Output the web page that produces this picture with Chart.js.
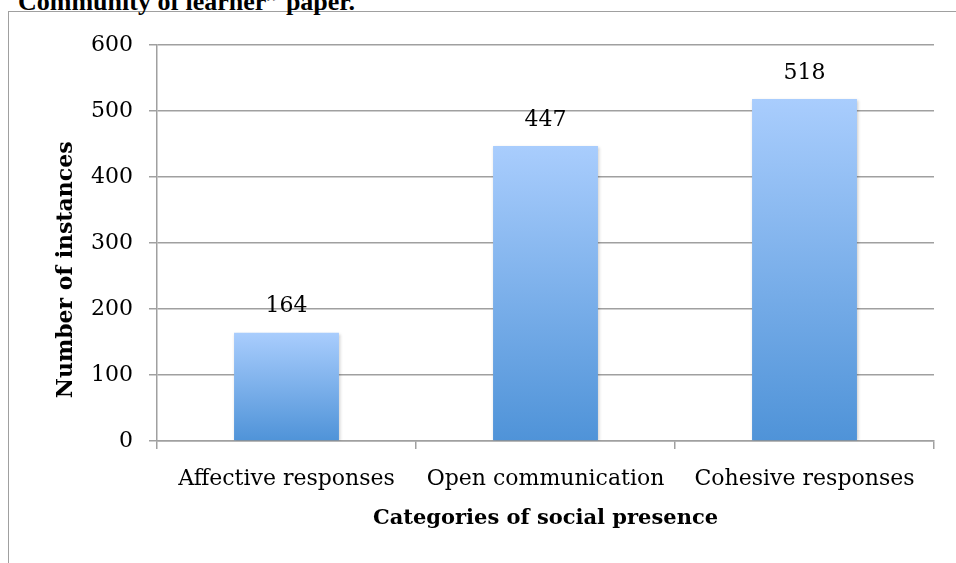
<!DOCTYPE html>
<html>
<head>
<meta charset="utf-8">
<script src="https://cdn.jsdelivr.net/npm/chart.js@4/dist/chart.umd.min.js"></script>
<style>
  html, body { margin: 0; padding: 0; background: #fff; overflow: hidden; }
  #frame {
    position: absolute; left: 8px; top: 11px; width: 2000px; height: 2000px;
    border-left: 1.5px solid #a0a0a0; border-top: 1.5px solid #a0a0a0;
  }
  #caption {
    position: absolute; left: 18px; top: -13px; white-space: nowrap;
    font: bold 26px "Liberation Serif", serif; color: #000;
  }
  #chartBox { position: absolute; left: 0; top: 0; width: 956px; height: 563px; }
</style>
</head>
<body>
<div id="frame"></div>
<div id="caption">Community of learner” paper.</div>
<div id="chartBox"><canvas id="presenceChart" width="956" height="563"></canvas></div>
<script>
const categories = ["Affective responses", "Open communication", "Cohesive responses"];
const instanceCounts = [164, 447, 518];
const yTicks = [0, 100, 200, 300, 400, 500, 600];

const FONT = "'DejaVu Serif', serif";
const GRID = "#a0a0a0";
// trailing no-break spaces nudge the rotated title down, as in the original
const Y_TITLE = "Number of instances" + "\u00A0".repeat(7);

function barFill(context) {
  const chart = context.chart;
  const yScale = chart.scales.y;
  if (!yScale || context.type !== "data") return "#7fb2ec";
  const top = yScale.getPixelForValue(context.raw);
  const base = yScale.getPixelForValue(0);
  if (!isFinite(top) || !isFinite(base) || top === base) return "#7fb2ec";
  const grad = chart.ctx.createLinearGradient(0, top, 0, base);
  grad.addColorStop(0, "#a9cdfd");
  grad.addColorStop(1, "#4f93d8");
  return grad;
}

// soft shadow behind the bars
const barShadow = {
  id: "barShadow",
  beforeDatasetsDraw(chart) {
    const ctx = chart.ctx;
    ctx.save();
    ctx.shadowColor = "rgba(0,0,0,0.22)";
    ctx.shadowBlur = 3;
    ctx.shadowOffsetX = 1;
    ctx.shadowOffsetY = 1;
  },
  afterDatasetsDraw(chart) {
    chart.ctx.restore();
  },
};

// value above each bar
const valueLabels = {
  id: "valueLabels",
  afterDatasetsDraw(chart) {
    const ctx = chart.ctx;
    const meta = chart.getDatasetMeta(0);
    ctx.save();
    ctx.font = "22px " + FONT;
    ctx.fillStyle = "#000";
    ctx.textAlign = "center";
    ctx.textBaseline = "middle";
    meta.data.forEach((bar, i) => {
      ctx.fillText(String(instanceCounts[i]), bar.x, bar.y - 26);
    });
    ctx.restore();
  },
};

function main() {
  const ctx = document.getElementById("presenceChart");
  new Chart(ctx.getContext("2d"), {
    type: "bar",
    data: {
      labels: categories,
      datasets: [
        {
          label: "Number of instances",
          data: instanceCounts,
          backgroundColor: barFill,
          borderWidth: 0,
          categoryPercentage: 1,
          barPercentage: 0.405,
        },
      ],
    },
    options: {
      responsive: false,
      animation: false,
      layout: { padding: { top: 45, right: 22, left: 0, bottom: 0 } },
      plugins: {
        legend: { display: false },
        tooltip: { enabled: false },
      },
      scales: {
        x: {
          afterFit: (scale) => { scale.height = 122; },
          grid: {
            offset: true,
            drawOnChartArea: false,
            drawTicks: true,
            tickLength: 8,
            color: GRID,
            lineWidth: 1.5,
          },
          border: { display: true, color: GRID, width: 1.5 },
          ticks: {
            color: "#000",
            font: { family: FONT, size: 22 },
            padding: 17,
            maxRotation: 0,
          },
          title: {
            display: true,
            text: "Categories of social presence",
            color: "#000",
            font: { family: FONT, size: 21, weight: "bold" },
            padding: { top: 0, bottom: 32 },
          },
        },
        y: {
          min: 0,
          max: 600,
          afterFit: (scale) => { scale.width = 157; },
          afterBuildTicks: (scale) => {
            scale.ticks = yTicks.map((v) => ({ value: v }));
          },
          grid: {
            color: GRID,
            lineWidth: 1.5,
            drawTicks: true,
            tickLength: 8,
          },
          border: { display: true, color: GRID, width: 1.5 },
          ticks: {
            color: "#000",
            font: { family: FONT, size: 22 },
            padding: 16,
          },
          title: {
            display: true,
            text: Y_TITLE,
            color: "#000",
            font: { family: FONT, size: 22, weight: "bold" },
            padding: { top: 53, bottom: 0 },
          },
        },
      },
    },
    plugins: [barShadow, valueLabels],
  });
}

document.addEventListener("DOMContentLoaded", main);
</script>
</body>
</html>
